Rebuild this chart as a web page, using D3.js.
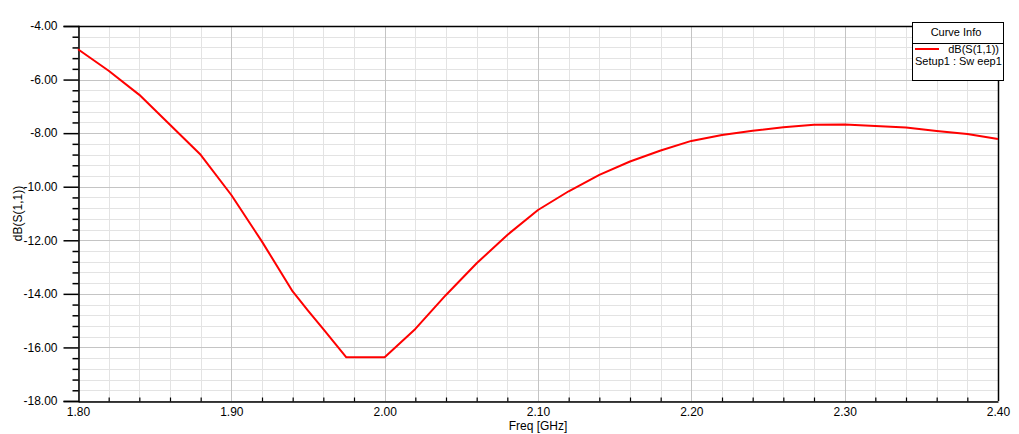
<!DOCTYPE html>
<html>
<head>
<meta charset="utf-8">
<script src="https://cdn.jsdelivr.net/npm/d3@7"></script>
<style>
  html, body { margin: 0; padding: 0; background: #fff; }
  svg { display: block; font-family: Arial, "Liberation Sans", sans-serif; }
</style>
</head>
<body>
<svg id="chart" width="1019" height="434"></svg>
<script>
// ---- data ----
const freq = [1.80, 1.82, 1.84, 1.86, 1.88, 1.90, 1.92, 1.94, 1.95, 1.96, 1.975, 2.00,
              2.02, 2.04, 2.06, 2.08, 2.10, 2.12, 2.14, 2.16, 2.18, 2.20, 2.22, 2.24,
              2.26, 2.28, 2.30, 2.32, 2.34, 2.36, 2.38, 2.40];
const s11 = [-4.87, -5.67, -6.57, -7.69, -8.81, -10.31, -12.05, -13.91, -14.63, -15.32, -16.37, -16.37,
             -15.31, -14.04, -12.86, -11.80, -10.87, -10.17, -9.56, -9.06, -8.65, -8.29, -8.07, -7.91,
             -7.78, -7.69, -7.68, -7.73, -7.79, -7.92, -8.03, -8.22];
const xTicks = [1.80, 1.90, 2.00, 2.10, 2.20, 2.30, 2.40];
const xTickLabels = ["1.80", "1.90", "2.00", "2.10", "2.20", "2.30", "2.40"];
const yTicks = [-4, -6, -8, -10, -12, -14, -16, -18];
const yTickLabels = ["-4.00", "-6.00", "-8.00", "-10.00", "-12.00", "-14.00", "-16.00", "-18.00"];
const xTitle = "Freq [GHz]";
const yTitle = "dB(S(1,1))";
const legendTitle = "Curve Info";
const seriesName = "dB(S(1,1))";
const seriesSetup = "Setup1 : Sw eep1";

// ---- layout ----
const L = 78, R = 998, T = 26, B = 401;
const svg = d3.select("#chart");
const x = d3.scaleLinear().domain([1.80, 2.40]).range([L, R]);
const y = d3.scaleLinear().domain([-18, -4]).range([B, T]);

// minor grid values (5 subdivisions)
const xMinor = d3.range(0, 31).map(i => 1.80 + i * 0.02).filter((v, i) => i % 5 !== 0);
const yMinor = d3.range(0, 36).map(i => -18 + i * 0.4).filter((v, i) => i % 5 !== 0);

const grid = svg.append("g").attr("shape-rendering", "crispEdges");
grid.selectAll(".xm").data(xMinor).join("line")
  .attr("x1", d => Math.round(x(d)) + 0.5).attr("x2", d => Math.round(x(d)) + 0.5)
  .attr("y1", T).attr("y2", B).attr("stroke", "#e3e3e3");
grid.selectAll(".ym").data(yMinor).join("line")
  .attr("y1", d => Math.round(y(d)) + 0.5).attr("y2", d => Math.round(y(d)) + 0.5)
  .attr("x1", L).attr("x2", R).attr("stroke", "#e3e3e3");
grid.selectAll(".xM").data(xTicks).join("line")
  .attr("x1", d => Math.round(x(d)) + 0.5).attr("x2", d => Math.round(x(d)) + 0.5)
  .attr("y1", T).attr("y2", B).attr("stroke", "#c4c4c4");
grid.selectAll(".yM").data(yTicks).join("line")
  .attr("y1", d => Math.round(y(d)) + 0.5).attr("y2", d => Math.round(y(d)) + 0.5)
  .attr("x1", L).attr("x2", R).attr("stroke", "#c4c4c4");

// border (top, right)
svg.append("path")
  .attr("d", `M${L},${T + 0.5}H${R + 0.5}V${B}`)
  .attr("fill", "none").attr("stroke", "#000").attr("stroke-width", 1.5);

// y axis major
const yAxis = d3.axisLeft(y).tickValues(yTicks).tickSize(15).tickPadding(6)
  .tickFormat((d, i) => yTickLabels[i]);
const gy = svg.append("g").attr("transform", `translate(${L + 0.5},0)`).call(yAxis);
gy.select(".domain").attr("stroke", "#000").attr("stroke-width", 1.5);
gy.selectAll(".tick line").attr("stroke", "#000").attr("stroke-width", 1.5);
gy.selectAll("text").attr("font-size", 12).attr("fill", "#000")
  .attr("font-family", "Arial, 'Liberation Sans', sans-serif");
// y minor ticks
const yMinorAxis = d3.axisLeft(y).tickValues(yMinor).tickSize(6).tickFormat("");
const gym = svg.append("g").attr("transform", `translate(${L + 0.5},0)`).call(yMinorAxis);
gym.select(".domain").remove();
gym.selectAll(".tick line").attr("stroke", "#000").attr("stroke-width", 1.5);

// x axis
const xAxis = d3.axisBottom(x).tickValues(xTicks).tickSize(0).tickPadding(6)
  .tickFormat((d, i) => xTickLabels[i]);
const gx = svg.append("g").attr("transform", `translate(0,${B + 0.5})`).call(xAxis);
gx.select(".domain").attr("stroke", "#000").attr("stroke-width", 1.5);
gx.selectAll("text").attr("font-size", 12).attr("fill", "#000")
  .attr("font-family", "Arial, 'Liberation Sans', sans-serif");
// x minor ticks (inward)
const xMinorAxis = d3.axisTop(x).tickValues(xMinor).tickSize(4).tickFormat("");
const gxm = svg.append("g").attr("transform", `translate(0,${B + 0.5})`).call(xMinorAxis);
gxm.select(".domain").remove();
gxm.selectAll(".tick line").attr("stroke", "#000").attr("stroke-width", 1.2);

// titles
svg.append("text").attr("x", (L + R) / 2).attr("y", 430).attr("text-anchor", "middle")
  .attr("font-size", 12).text(xTitle);
svg.append("text").attr("transform", `translate(22,${(T + B) / 2}) rotate(-90)`)
  .attr("text-anchor", "middle").attr("font-size", 12).text(yTitle);

// curve
const line = d3.line().x(d => x(d[0])).y(d => y(d[1]));
svg.append("path")
  .datum(freq.map((f, i) => [f, s11[i]]))
  .attr("d", line)
  .attr("fill", "none").attr("stroke", "#ff0000").attr("stroke-width", 2)
  .attr("stroke-linejoin", "round");

// legend
const lg = svg.append("g");
lg.append("rect").attr("x", 912.5).attr("y", 22.5).attr("width", 91).attr("height", 58)
  .attr("fill", "#fff").attr("stroke", "#000").attr("stroke-width", 1);
lg.append("line").attr("x1", 912.5).attr("x2", 1003.5).attr("y1", 43.5).attr("y2", 43.5)
  .attr("stroke", "#000");
lg.append("text").attr("x", 956).attr("y", 36).attr("text-anchor", "middle")
  .attr("font-size", 11).text(legendTitle);
lg.append("line").attr("x1", 915).attr("x2", 939).attr("y1", 49).attr("y2", 49)
  .attr("stroke", "#ff0000").attr("stroke-width", 2);
lg.append("text").attr("x", 999).attr("y", 53).attr("text-anchor", "end")
  .attr("font-size", 11).text(seriesName);
lg.append("text").attr("x", 915).attr("y", 65)
  .attr("font-size", 11).text(seriesSetup);
</script>
</body>
</html>
